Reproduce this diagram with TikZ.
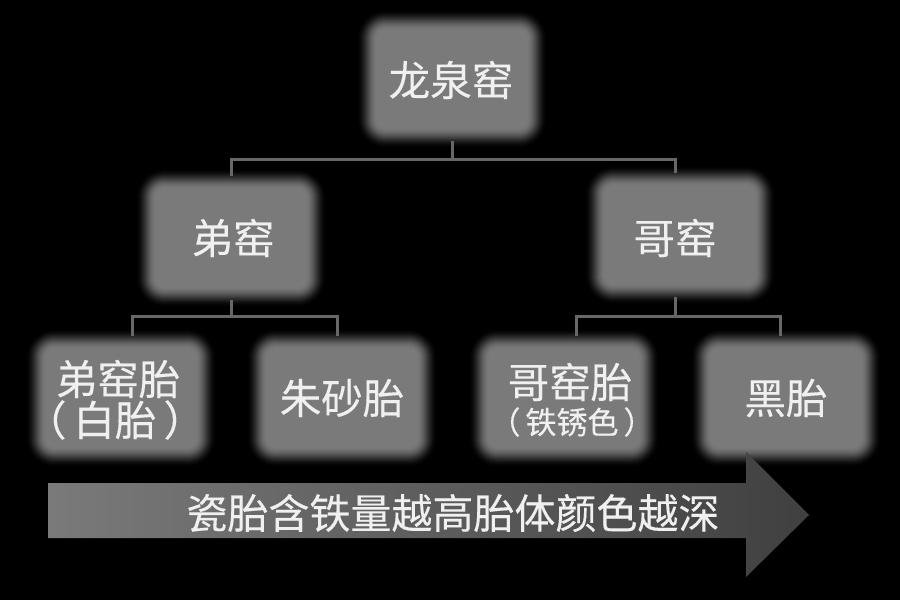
\documentclass[tikz,border=0pt]{standalone}
\usepackage{fontspec}
\setmainfont[FakeBold=0.25]{Noto Sans CJK SC}
\definecolor{boxgray}{HTML}{7A7A7A}
\definecolor{linegray}{HTML}{676767}
\definecolor{txtgray}{HTML}{F0F0F0}
\tikzset{
  x=1pt,y=-1pt,
  boxnode/.style={inner sep=0pt,outer sep=0pt,minimum width=179pt,minimum height=124pt},
  lbl/.style={inner sep=0pt,text=txtgray,font=\fontsize{41.5}{41.5}\selectfont},
  lblsmall/.style={inner sep=0pt,text=txtgray,font=\fontsize{31}{31}\selectfont},
  lblbar/.style={inner sep=0pt,text=txtgray,font=\fontsize{41}{41}\selectfont},
  conn/.style={draw=linegray,line width=3pt,line cap=butt,line join=miter},
}
% soft-edged box: stacked rounded rectangles that brighten toward the inside
\newcommand{\softbox}[3]{%
  \foreach \i in {0,...,21}{%
    \pgfmathsetmacro{\shadeval}{100*sin(\i/21*90)^2}
    \pgfmathsetmacro{\rad}{max(29-\i,8)}
    \fill[boxgray!\shadeval!black,rounded corners=\rad pt]
      (#2-96+\i,#3-70+\i) rectangle (#2+96-\i,#3+70-\i);
  }
  \node[boxnode] (#1) at (#2,#3) {};
}
\begin{document}
\begin{tikzpicture}
\useasboundingbox (0,0) rectangle (900,600);
\fill[black] (0,0) rectangle (900,600);
% boxes
\softbox{root}{452}{79}
\softbox{di}{231}{238}
\softbox{ge}{680}{235}
\softbox{ditai}{121}{398}
\softbox{zhusha}{342}{398}
\softbox{getai}{564}{398}
\softbox{heitai}{786}{398}
% connectors
\coordinate (busA) at (0,159);
\coordinate (busB) at (0,316);
\draw[conn] (root.south) -- (root.south |- busA);
\draw[conn] (di.north) |- (root.south |- busA);
\draw[conn] (root.south |- busA) -| ([xshift=-5pt]ge.north);
\draw[conn] (di.south) -- (di.south |- busB);
\draw[conn] ([xshift=11pt]ditai.north) |- (di.south |- busB);
\draw[conn] (di.south |- busB) -| ([xshift=-5pt]zhusha.north);
\draw[conn] ([xshift=-5pt]ge.south) -- ([xshift=-5pt]ge.south |- busB);
\draw[conn] ([xshift=12pt]getai.north) |- ([xshift=-5pt]ge.south |- busB);
\draw[conn] ([xshift=-5pt]ge.south |- busB) -| ([xshift=-6pt]heitai.north);
% arrow
\shade[left color=boxgray,right color=black!75!white]
  (48,483) -- (746,483) -- (746,452) -- (809,515) -- (746,577) -- (746,538) -- (48,538) -- cycle;
% labels
\node[lbl] (t1) at (451,80) {龙泉窑};
\node[lbl] (t2) at (233,238) {弟窑};
\node[lbl] (t3) at (675,238) {哥窑};
\node[lbl] (t4) at (118,379) {弟窑胎};
\node[lbl] (t4b) at (115,420) {（\hspace{7pt}白胎\hspace{7pt}）};
\node[lbl] (t5) at (342,398) {朱砂胎};
\node[lbl] (t6) at (570,382) {哥窑胎};
\node[lblsmall] (t6b) at (572,422) {（\hspace{5pt}铁锈色\hspace{5pt}）};
\node[lbl] (t7) at (786,398) {黑胎};
\node[lblbar] (t8) at (453,513) {瓷胎含铁量越高胎体颜色越深};
\end{tikzpicture}
\end{document}
